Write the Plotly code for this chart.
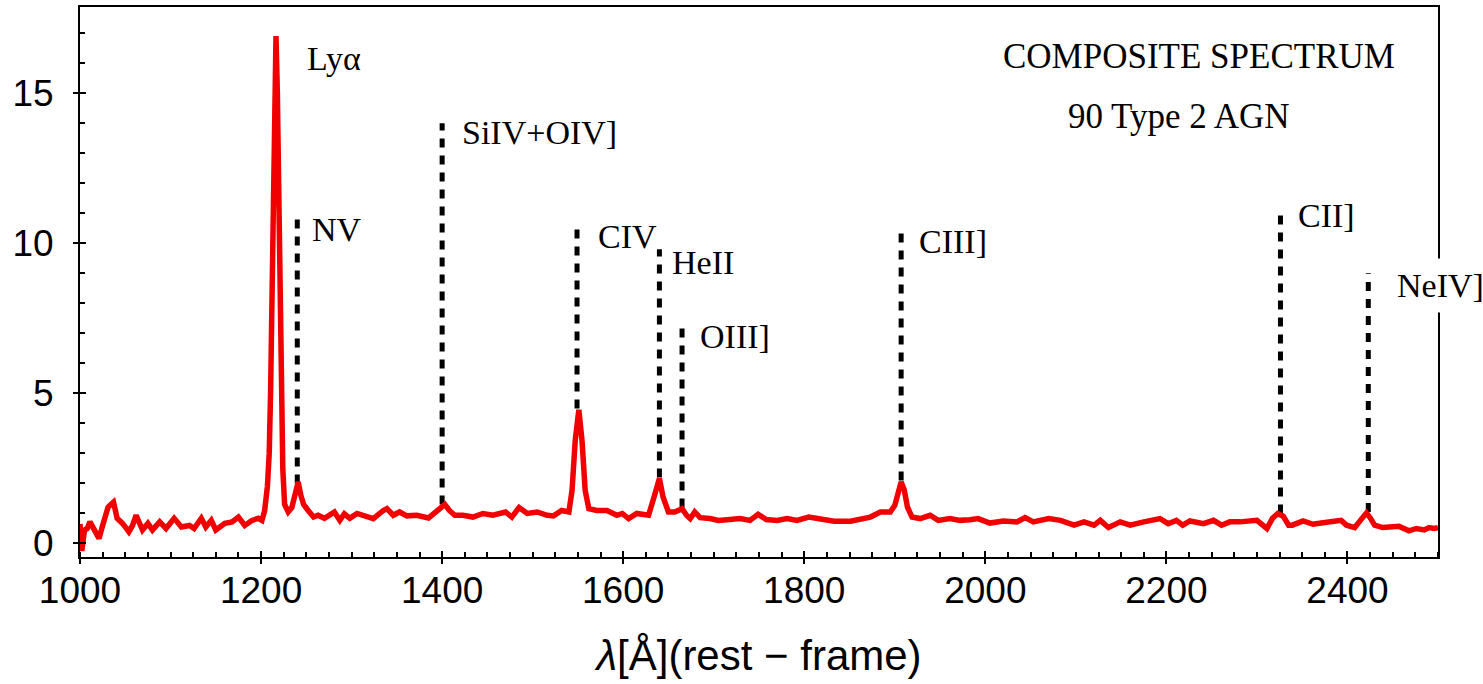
import plotly.graph_objects as go

# ---- spectrum ----
wavelength = [1000, 1002, 1005, 1008, 1011, 1016, 1021, 1025, 1031, 1034, 1037, 1041, 1047, 1054, 1058,
              1062, 1069, 1075, 1080, 1088, 1095, 1104, 1112, 1121, 1126, 1134, 1139, 1145, 1150, 1160,
              1168, 1175, 1182, 1190, 1197, 1201, 1204, 1207, 1209, 1210.5, 1213, 1215, 1216.5, 1218,
              1220, 1222, 1224, 1226, 1230, 1234, 1237, 1241, 1244, 1247, 1252, 1258, 1263, 1270, 1281,
              1287, 1292, 1298, 1306, 1313, 1324, 1335, 1339, 1346, 1353, 1361, 1372, 1385, 1394, 1403,
              1408, 1414, 1423, 1434, 1445, 1456, 1470, 1477, 1485, 1494, 1505, 1516, 1523, 1532, 1540,
              1543.5, 1547, 1551, 1554.5, 1558, 1562, 1571, 1582, 1593, 1599, 1606, 1615, 1628, 1633,
              1640, 1644, 1650, 1657, 1665, 1670, 1674, 1679, 1685, 1696, 1705, 1718, 1729, 1740, 1749,
              1758, 1770, 1781, 1792, 1805, 1818, 1833, 1851, 1862, 1873, 1884, 1895, 1900, 1904, 1907,
              1910.5, 1914, 1919, 1928, 1939, 1948, 1961, 1972, 1983, 1992, 2005, 2020, 2035, 2044, 2053,
              2070, 2083, 2098, 2109, 2120, 2127, 2136, 2149, 2160, 2175, 2193, 2202, 2211, 2218, 2226,
              2241, 2252, 2261, 2270, 2281, 2293, 2300, 2311, 2317, 2323, 2329, 2335, 2339, 2351, 2362,
              2371, 2382, 2393, 2399, 2408, 2413, 2421, 2425, 2430, 2439, 2450, 2457, 2468, 2476, 2485,
              2490, 2496, 2500]
flux = [0.65, -0.25, 0.45, 0.5, 0.72, 0.45, 0.17, 0.6, 1.21, 1.3, 1.38, 0.84, 0.67, 0.39, 0.6,
        0.94, 0.45, 0.67, 0.45, 0.72, 0.5, 0.84, 0.55, 0.6, 0.5, 0.84, 0.55, 0.77, 0.45, 0.67,
        0.72, 0.88, 0.6, 0.77, 0.84, 0.77, 1.1, 1.9, 3.0, 5.0, 10.0, 15.0, 16.9, 15.0,
        10.0, 5.0, 2.5, 1.3, 1.05, 1.2, 1.6, 2.05, 1.6, 1.3, 1.1, 0.88, 0.94, 0.84, 1.05,
        0.77, 0.99, 0.84, 1.0, 0.94, 0.83, 1.1, 1.16, 0.94, 1.05, 0.92, 0.94, 0.85, 1.05, 1.3,
        1.1, 0.94, 0.94, 0.88, 1.0, 0.94, 1.05, 0.88, 1.2, 1.0, 1.05, 0.94, 0.92, 1.1, 1.05,
        1.77, 3.43, 4.45, 3.43, 1.77, 1.16, 1.1, 1.1, 0.94, 1.0, 0.83, 1.0, 0.94, 1.44,
        2.16, 1.55, 1.05, 1.05, 1.16, 0.94, 0.83, 1.05, 0.86, 0.83, 0.77, 0.8, 0.83, 0.77, 0.97,
        0.8, 0.77, 0.83, 0.77, 0.88, 0.83, 0.74, 0.74, 0.8, 0.88, 1.05, 1.05, 1.27, 1.83, 2.05,
        1.77, 1.21, 0.88, 0.83, 0.94, 0.77, 0.83, 0.77, 0.79, 0.83, 0.68, 0.75, 0.72, 0.86, 0.72,
        0.83, 0.77, 0.61, 0.72, 0.61, 0.77, 0.53, 0.72, 0.61, 0.72, 0.83, 0.66, 0.77, 0.61, 0.75,
        0.66, 0.77, 0.61, 0.72, 0.72, 0.75, 0.77, 0.5, 0.83, 1.0, 0.91, 0.61, 0.61, 0.75, 0.64,
        0.68, 0.72, 0.77, 0.61, 0.53, 0.72, 1.02, 0.86, 0.61, 0.53, 0.53, 0.57, 0.42, 0.5, 0.45,
        0.53, 0.5, 0.53]

# ---- emission-line markers ----
line_names = ["NV", "SiIV+OIV]", "CIV", "HeII", "OIII]", "CIII]", "CII]", "NeIV]"]
line_wl = [1240, 1400, 1549, 1640, 1665, 1907, 2326, 2423]
line_bottom = [2.0, 1.3, 4.5, 2.2, 1.2, 2.1, 1.0, 1.05]
line_top = [10.8, 14.0, 10.6, 9.8, 7.3, 10.5, 11.1, 9.0]
label_x = [1254, 1420, 1570, 1652, 1683, 1924, 2343, 2445]
label_y = [10.45, 13.7, 10.24, 9.37, 6.9, 10.07, 10.92, 8.59]

lya_label = ("Lyα", 1249, 16.14)
title_lines = [("COMPOSITE SPECTRUM", 2236, 16.21), ("90 Type 2 AGN", 2213, 14.22)]

x_ticks = [1000, 1200, 1400, 1600, 1800, 2000, 2200, 2400]
y_ticks = [0, 5, 10, 15]
x_range = [1000, 2500]
y_range = [-0.45, 17.87]

fig = go.Figure()

for wl, lo, hi in zip(line_wl, line_bottom, line_top):
    fig.add_trace(go.Scatter(x=[wl, wl], y=[lo, hi], mode="lines",
                             line=dict(color="black", width=5, dash="9px,8px"),
                             showlegend=False, hoverinfo="skip"))

fig.add_trace(go.Scatter(x=wavelength, y=flux, mode="lines",
                         line=dict(color="#f00000", width=5.5), showlegend=False))

# invisible trace on overlay axes so they render
fig.add_trace(go.Scatter(x=x_range, y=y_range, xaxis="x2", yaxis="y2", mode="lines",
                         line=dict(width=0), showlegend=False, hoverinfo="skip"))

label_font = dict(family="Liberation Serif", size=34, color="black")
for name, lx, ly in zip(line_names, label_x, label_y):
    fig.add_annotation(x=lx, y=ly, text=name, showarrow=False, xanchor="left", yanchor="middle",
                       font=label_font,
                       bgcolor="white" if name == "NeIV]" else "rgba(0,0,0,0)",
                       borderpad=8 if name == "NeIV]" else 1)
fig.add_annotation(x=lya_label[1], y=lya_label[2], text=lya_label[0], showarrow=False,
                   xanchor="left", yanchor="middle", font=label_font)
for txt, tx, ty in title_lines:
    fig.add_annotation(x=tx, y=ty, text=txt, showarrow=False, xanchor="center", yanchor="middle",
                       font=dict(family="Liberation Serif", size=35, color="black"))

tick_font = dict(family="Liberation Sans", size=37, color="black")
fig.update_layout(
    width=1483, height=684,
    margin=dict(l=80, r=45, t=5, b=127),
    paper_bgcolor="white", plot_bgcolor="white",
    xaxis=dict(range=x_range, tickvals=x_ticks, ticks="outside", ticklen=5, tickwidth=2,
               tickcolor="black", showline=True, linecolor="black", linewidth=2, mirror=True,
               showgrid=False, zeroline=False, tickfont=tick_font, ticklabelstandoff=-5,
               minor=dict(dtick=25, tick0=1000, ticks="inside", ticklen=5, tickwidth=1.5,
                          tickcolor="black", showgrid=False),
               title=dict(text="<i>λ</i>[Å](rest − frame)",
                          font=dict(family="Liberation Sans", size=42, color="black"),
                          standoff=30)),
    yaxis=dict(range=y_range, tickvals=y_ticks, ticks="outside", ticklen=5, tickwidth=2,
               tickcolor="black", showline=True, linecolor="black", linewidth=2, mirror=True,
               showgrid=False, zeroline=False, tickfont=tick_font, ticklabelstandoff=12,
               minor=dict(dtick=1, tick0=0, ticks="inside", ticklen=5, tickwidth=1.5,
                          tickcolor="black", showgrid=False)),
    xaxis2=dict(range=x_range, overlaying="x", anchor="y2", tickvals=x_ticks, ticks="inside",
                ticklen=6, tickwidth=2, tickcolor="black", showticklabels=False,
                showgrid=False, zeroline=False, showline=False),
    yaxis2=dict(range=y_range, overlaying="y", anchor="x2", tickvals=y_ticks, ticks="inside",
                ticklen=6, tickwidth=2, tickcolor="black", showticklabels=False,
                showgrid=False, zeroline=False, showline=False),
)

fig.write_html("out.html")
